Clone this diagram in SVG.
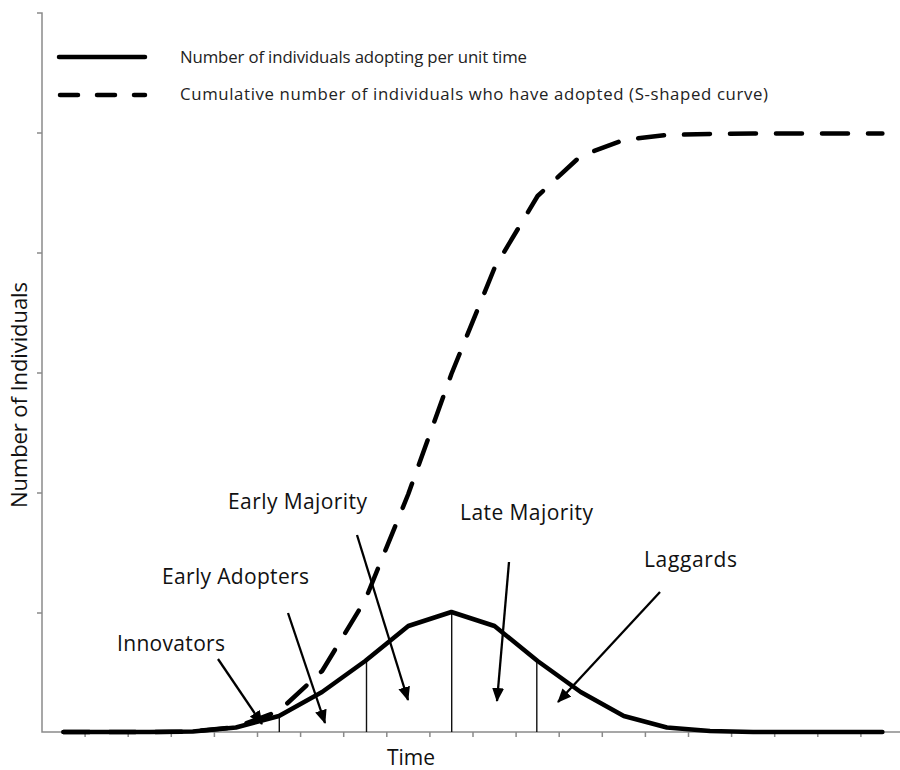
<svg xmlns="http://www.w3.org/2000/svg" width="900" height="770" viewBox="0 0 900 770">
<style>
.axis{stroke:#8a8a8a;stroke-width:1.5;fill:none}
.solid{stroke:#000;stroke-width:4.5;fill:none;stroke-linejoin:round;stroke-linecap:round}
.dash{stroke:#000;stroke-width:4.5;fill:none;stroke-linejoin:round;stroke-linecap:round;stroke-dasharray:26 20}
.div{stroke:#111;stroke-width:1.4}
.arrow{stroke:#000;stroke-width:2.3;fill:none;marker-end:url(#ah)}
.lbl{font-family:"Open Sans","Liberation Sans",sans-serif;font-size:21px;fill:#111}
.leg{font-family:"Open Sans","Liberation Sans",sans-serif;font-size:16.8px;fill:#222}
</style>
<defs>
<marker id="ah" markerWidth="14" markerHeight="12" refX="13" refY="6" orient="auto" markerUnits="userSpaceOnUse">
<path d="M0,0 L14,6 L0,12 Z" fill="#000"/>
</marker>
</defs>
<rect width="900" height="770" fill="#fff"/>
<g id="axes">
<path class="axis" d="M37,13 H42 V732 H900"/>
<path class="axis" d="M37,133H42M37,253H42M37,373H42M37,493H42M37,613H42"/>
<path class="axis" d="M85.1,732v5M128.2,732v5M171.3,732v5M214.4,732v5M257.5,732v5M300.6,732v5M343.7,732v5M386.8,732v5M429.9,732v5M473,732v5M516.1,732v5M559.2,732v5M602.3,732v5M645.4,732v5M688.5,732v5M731.6,732v5M774.7,732v5M817.8,732v5M860.9,732v5"/>
<text class="lbl" x="411" y="765" text-anchor="middle" textLength="48">Time</text>
<text class="lbl" transform="translate(27,395) rotate(-90)" text-anchor="middle" textLength="226" style="font-size:22px">Number of Individuals</text>
</g>
<g id="legend">
<line x1="59" y1="57" x2="145" y2="57" stroke="#000" stroke-width="4.5" stroke-linecap="round"/>
<line x1="60" y1="95" x2="145" y2="95" stroke="#000" stroke-width="4.5" stroke-linecap="round" stroke-dasharray="18 19"/>
<text class="leg" x="180" y="63" textLength="347">Number of individuals adopting per unit time</text>
<text class="leg" x="180" y="100" textLength="588">Cumulative number of individuals who have adopted (S-shaped curve)</text>
</g>
<g id="dividers">
<line class="div" x1="279.3" y1="716" x2="279.3" y2="732"/>
<line class="div" x1="366.5" y1="661" x2="366.5" y2="732"/>
<line class="div" x1="451.7" y1="612" x2="451.7" y2="732"/>
<line class="div" x1="536.8" y1="661" x2="536.8" y2="732"/>
</g>
<g id="curves">
<polyline id="cumulative" class="dash" points="63.5,732 106.6,732 149.7,732 192.8,731.5 235.9,727 279,711 322.1,671 365.2,600 408.3,494 451.4,374 494.5,268 537.6,196 580.7,156 623.8,140 666.9,135 710,134 753.1,133.5 796.2,133.5 839.3,133.5 882.4,133.5"/>
<polyline id="per-unit" class="solid" points="63.5,732 106.6,732 149.7,732 192.8,731.5 235.9,727.5 279,716 322.1,692 365.2,661 408.3,626 451.4,612 494.5,626 537.6,661 580.7,692 623.8,716 666.9,727.5 710,731 753.1,732 796.2,732 839.3,732 882.4,732"/>
</g>
<g id="innovators"><text class="lbl" x="117" y="651" textLength="108">Innovators</text></g>
<g id="early-adopters"><text class="lbl" x="162" y="584" textLength="147">Early Adopters</text></g>
<g id="early-majority"><text class="lbl" x="228" y="509" textLength="139">Early Majority</text></g>
<g id="late-majority"><text class="lbl" x="460" y="520" textLength="133">Late Majority</text></g>
<g id="laggards"><text class="lbl" x="644" y="567" textLength="93">Laggards</text></g>
<g id="connectors">
<line class="arrow" x1="218" y1="659" x2="262" y2="724"/>
<line class="arrow" x1="288" y1="613" x2="325" y2="723"/>
<line class="arrow" x1="357" y1="535" x2="408" y2="700"/>
<line class="arrow" x1="509" y1="562" x2="497" y2="701"/>
<line class="arrow" x1="660" y1="592" x2="558" y2="702"/>
</g>
</svg>
